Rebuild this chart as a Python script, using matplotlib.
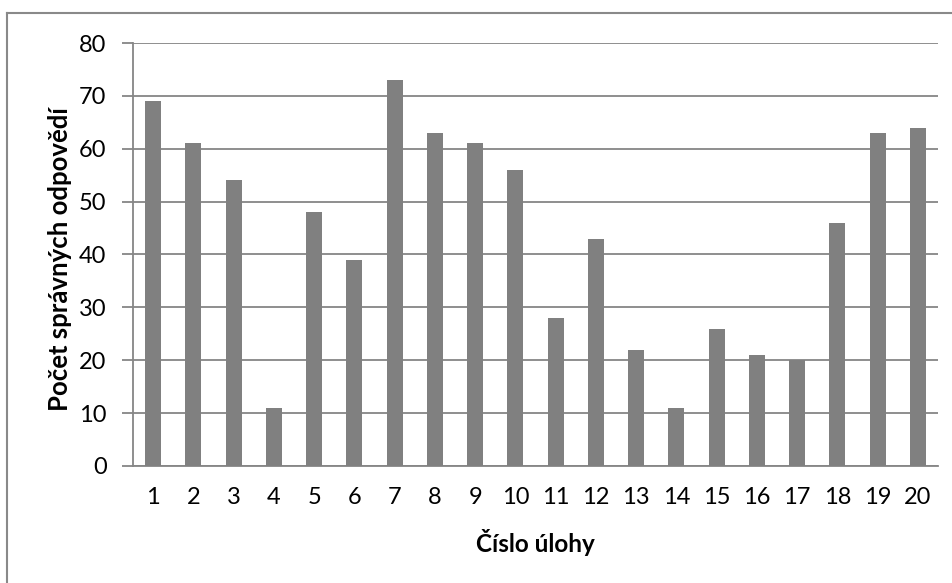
import matplotlib.pyplot as plt
from matplotlib.lines import Line2D
import numpy as np

plt.rcParams['font.family'] = ['Lato', 'DejaVu Sans']

ulohy = [str(i) for i in range(1, 21)]
spravne = [69, 61, 54, 11, 48, 39, 73, 63, 61, 56, 28, 43, 22, 11, 26, 21, 20, 46, 63, 64]

W, H = 953, 583
fig = plt.figure(figsize=(W / 100, H / 100), dpi=100)
ax = fig.add_axes([133/W, 1-466/H, (938-133)/W, (466-43)/H])

x = np.arange(len(ulohy))
ax.bar(x, spravne, width=0.4, color='#808080', zorder=3)

ax.set_xlim(-0.5, len(ulohy) - 0.5)
ax.set_ylim(0, 80)
ax.set_yticks(range(0, 81, 10))
ax.set_xticks(x)
ax.set_xticklabels(ulohy)
ax.yaxis.grid(True, color='#868686', linewidth=1.3, zorder=0)

for s in ['top', 'right']:
    ax.spines[s].set_visible(False)
for s in ['left', 'bottom']:
    ax.spines[s].set_color('#868686')
    ax.spines[s].set_linewidth(1.3)

ax.tick_params(axis='y', length=8, width=1.3, color='#868686', labelsize=17, pad=11)
ax.tick_params(axis='x', length=0, labelsize=17, pad=15)

fig.text(535/W, 1-543/H, 'Číslo úlohy', fontsize=17.5, fontweight='bold',
         ha='center', va='center')
fig.text(60/W, 1-259/H, 'Počet správných odpovědí', fontsize=18.5, fontweight='bold',
         ha='center', va='center', rotation=90)

# outer chart frame (only top and left edges visible)
fig.add_artist(Line2D([7/W, 7/W], [0, 1-13/H], color='#898989', lw=1.5))
fig.add_artist(Line2D([7/W, 1], [1-13/H, 1-13/H], color='#898989', lw=1.5))

fig.savefig('out.png', dpi=100)
